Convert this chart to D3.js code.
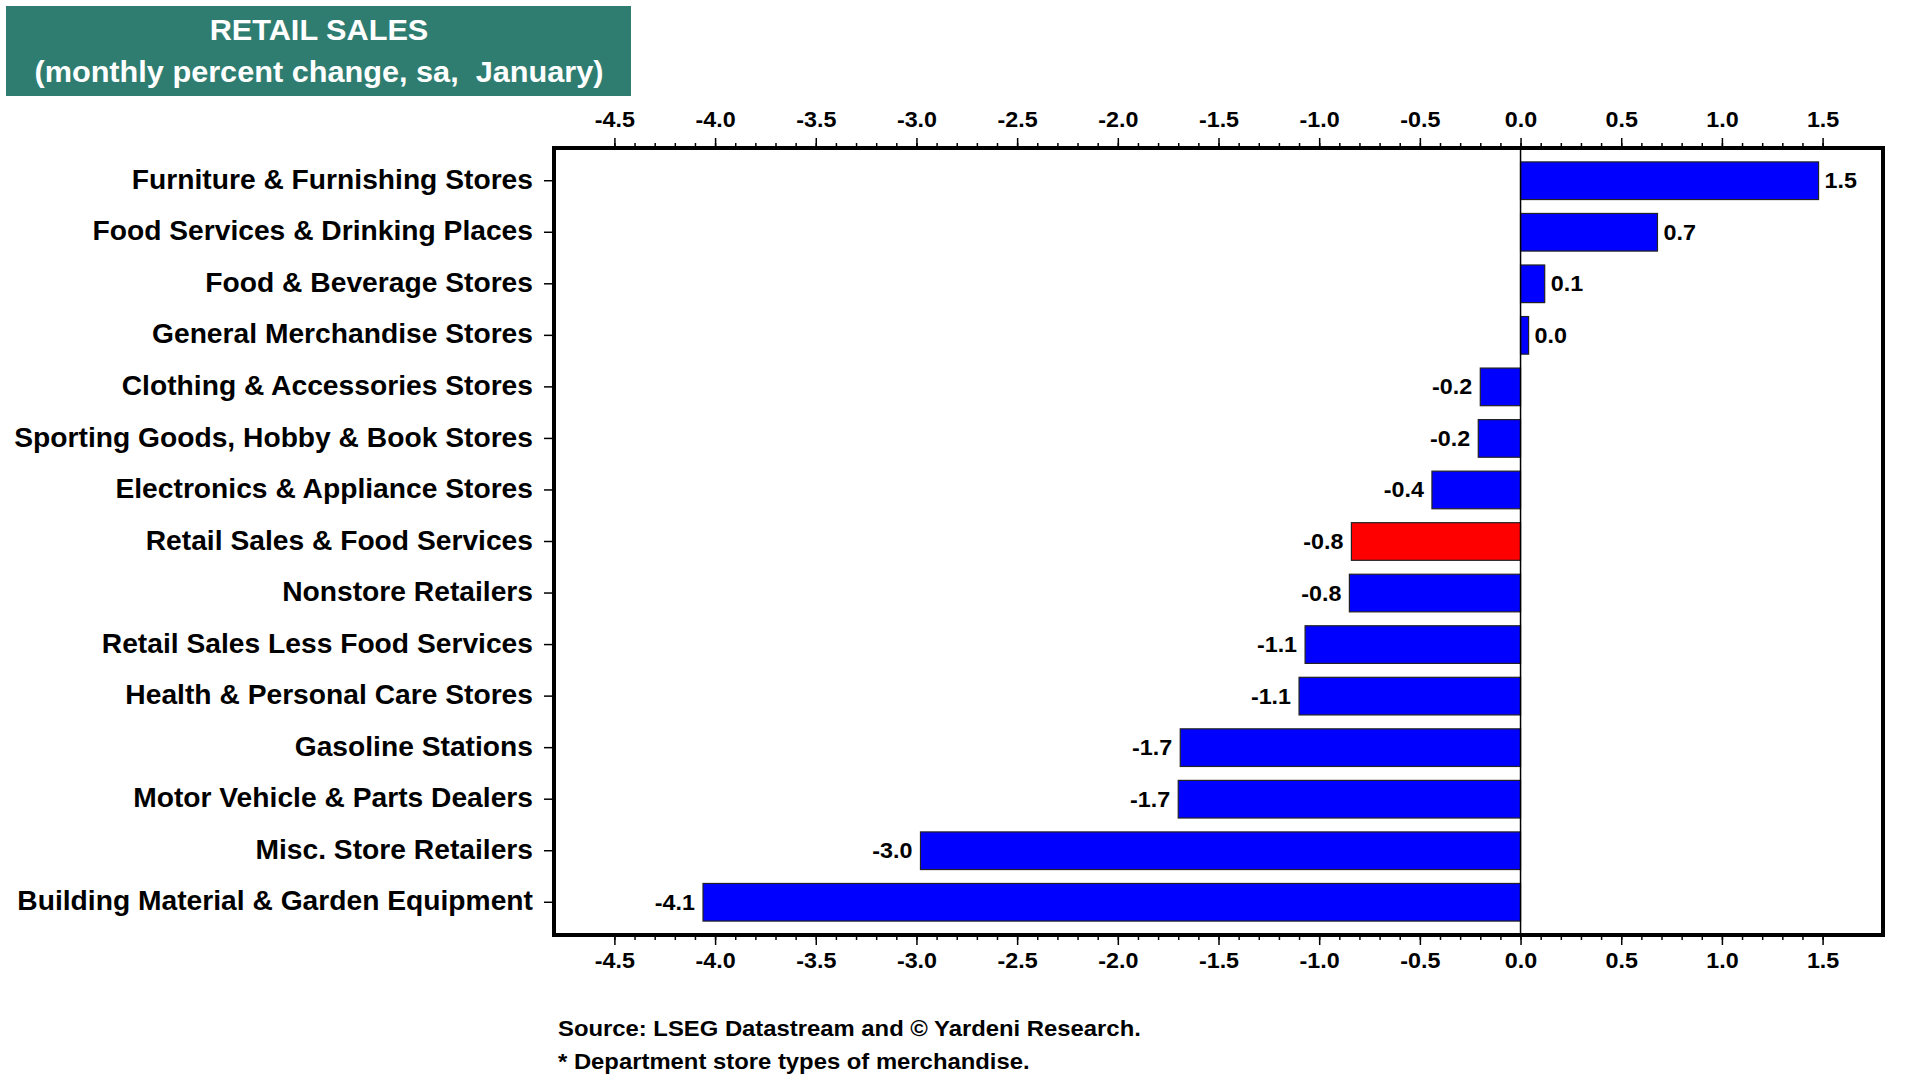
<!DOCTYPE html>
<html><head><meta charset="utf-8">
<script src="https://cdn.jsdelivr.net/npm/d3@7"></script>
<style>
body{margin:0;background:#fff}
svg{display:block}
text{font-family:"Liberation Sans",Arial,Helvetica,sans-serif;font-weight:bold;fill:#000}
</style>
</head><body>
<svg id="chart" width="1920" height="1080"></svg>
<script>
const categories = [
  "Furniture & Furnishing Stores",
  "Food Services & Drinking Places",
  "Food & Beverage Stores",
  "General Merchandise Stores",
  "Clothing & Accessories Stores",
  "Sporting Goods, Hobby & Book Stores",
  "Electronics & Appliance Stores",
  "Retail Sales & Food Services",
  "Nonstore Retailers",
  "Retail Sales Less Food Services",
  "Health & Personal Care Stores",
  "Gasoline Stations",
  "Motor Vehicle & Parts Dealers",
  "Misc. Store Retailers",
  "Building Material & Garden Equipment"
];
const values = [1.48, 0.68, 0.12, 0.04, -0.20, -0.21, -0.44, -0.84, -0.85, -1.07, -1.10, -1.69, -1.70, -2.98, -4.06];
const highlighted = ["Retail Sales & Food Services"];
const majorTicks = [-4.5, -4.0, -3.5, -3.0, -2.5, -2.0, -1.5, -1.0, -0.5, 0.0, 0.5, 1.0, 1.5];
const minorTicks = [-4.5,-4.4,-4.3,-4.2,-4.1,-4.0,-3.9,-3.8,-3.7,-3.6,-3.5,-3.4,-3.3,-3.2,-3.1,-3.0,-2.9,-2.8,-2.7,-2.6,-2.5,-2.4,-2.3,-2.2,-2.1,-2.0,-1.9,-1.8,-1.7,-1.6,-1.5,-1.4,-1.3,-1.2,-1.1,-1.0,-0.9,-0.8,-0.7,-0.6,-0.5,-0.4,-0.3,-0.2,-0.1,0.0,0.1,0.2,0.3,0.4,0.5,0.6,0.7,0.8,0.9,1.0,1.1,1.2,1.3,1.4,1.5];
const xDomain = [-4.8, 1.8];
const titleLines = ["RETAIL SALES", "(monthly percent change, sa,  January)"];
const notes = ["Source: LSEG Datastream and \u00A9 Yardeni Research.", "* Department store types of merchandise."];

const svg = d3.select("#chart");
const L = 554, R = 1883, T = 148, B = 935;

const x = d3.scaleLinear().domain(xDomain).range([L, R]);
const y = d3.scaleBand().domain(categories).range([T, B]).paddingInner(0.27).paddingOuter(0.27);
const fmt = v => v.toFixed(1);

function stretchText(sel, px, py, sx) {
  sel.attr("x", 0).attr("y", 0).attr("transform", `translate(${px},${py}) scale(${sx},1)`);
}

// Title box
svg.append("rect").attr("x", 6).attr("y", 6).attr("width", 625).attr("height", 90).attr("fill", "#2e7d70");
titleLines.forEach((t, i) => {
  svg.append("text").text(t)
    .attr("text-anchor", "middle").style("white-space", "pre")
    .attr("font-size", 29.5).style("fill", "#fff")
    .call(stretchText, 319, 40 + i * 42, 1.04);
});

// Bars
const data = categories.map((c, i) => ({c, v: values[i]}));
svg.append("g").selectAll("rect").data(data).join("rect")
  .attr("x", d => x(Math.min(0, d.v)))
  .attr("y", d => y(d.c))
  .attr("width", d => Math.abs(x(d.v) - x(0)))
  .attr("height", y.bandwidth())
  .attr("fill", d => highlighted.includes(d.c) ? "#ff0000" : "#0000ff")
  .attr("stroke", "#222").attr("stroke-width", 1.2);

// Zero line
svg.append("line").attr("x1", x(0)).attr("x2", x(0)).attr("y1", T).attr("y2", B)
  .attr("stroke", "#000").attr("stroke-width", 1.5);

// Value labels
svg.append("g").selectAll("text").data(data).join("text")
  .text(d => fmt(d.v))
  .attr("font-size", 22)
  .attr("dy", "0.34em")
  .attr("text-anchor", d => d.v < 0 ? "end" : "start")
  .each(function(d) {
    const px = d.v < 0 ? x(d.v) - 8 : x(d.v) + 6;
    d3.select(this).call(stretchText, px, y(d.c) + y.bandwidth() / 2, 1.06);
  });

// Top axis
function styleAxis(g) { g.select(".domain").remove(); g.selectAll("line").attr("stroke", "#000").attr("stroke-width", 1.5); }
svg.append("g").attr("transform", `translate(0,${T})`)
  .call(d3.axisTop(x).tickValues(minorTicks).tickSize(5).tickFormat("")).call(styleAxis);
const topAx = svg.append("g").attr("transform", `translate(0,${T})`)
  .call(d3.axisTop(x).tickValues(majorTicks).tickSize(10).tickFormat(fmt)).call(styleAxis);
topAx.selectAll("text").attr("font-size", 22).attr("y", -21).attr("dy", 0)
  .attr("font-family", null).attr("transform", "scale(1.06,1)");

// Bottom axis
svg.append("g").attr("transform", `translate(0,${B})`)
  .call(d3.axisBottom(x).tickValues(minorTicks).tickSize(5).tickFormat("")).call(styleAxis);
const botAx = svg.append("g").attr("transform", `translate(0,${B})`)
  .call(d3.axisBottom(x).tickValues(majorTicks).tickSize(10).tickFormat(fmt)).call(styleAxis);
botAx.selectAll("text").attr("font-size", 22).attr("y", 33).attr("dy", 0)
  .attr("font-family", null).attr("transform", "scale(1.06,1)");

// Category ticks and labels
svg.append("g").attr("transform", `translate(${L},0)`)
  .call(d3.axisLeft(y).tickSize(10).tickFormat("")).call(styleAxis);
svg.append("g").selectAll("text").data(categories).join("text")
  .text(d => d).attr("font-size", 27).attr("text-anchor", "end").attr("dy", "0.3em")
  .each(function(d) { d3.select(this).call(stretchText, 533, y(d) + y.bandwidth() / 2, 1.045); });

// Frame
svg.append("rect").attr("x", L).attr("y", T).attr("width", R - L).attr("height", B - T)
  .attr("fill", "none").attr("stroke", "#000").attr("stroke-width", 4);

// Notes
notes.forEach((t, i) => {
  svg.append("text").text(t).attr("font-size", 22.5).call(stretchText, 558, 1036 + i * 33, 1.06);
});
</script>
</body></html>
